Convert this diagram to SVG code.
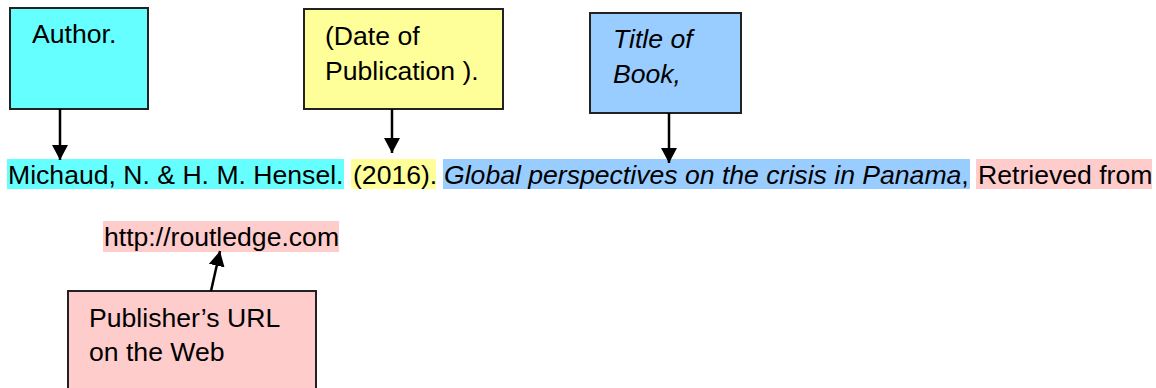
<svg xmlns="http://www.w3.org/2000/svg" width="1156" height="388" viewBox="0 0 1156 388">
<defs>
<style>
text{font-family:"Liberation Sans",Arial,sans-serif;font-size:26.6px;fill:#000}
.box{stroke:#222;stroke-width:2}
.it{font-style:italic}
.conn{stroke:#000;stroke-width:2.5;fill:none}
</style>
<marker id="ah" markerUnits="userSpaceOnUse" markerWidth="18" markerHeight="16" refX="15" refY="8" orient="auto">
<path d="M0,0 L15,8 L0,16 Z" fill="#000"/>
</marker>
</defs>
<rect width="1156" height="388" fill="#fff"/>
<g id="author">
<rect class="box" x="10" y="8" width="138" height="101" fill="#66FFFF"/>
<text x="32" y="43">Author.</text>
</g>
<g id="date">
<rect class="box" x="304" y="9" width="199" height="100" fill="#FFFF99"/>
<text x="325" y="45">(Date of</text>
<text x="325" y="80">Publication ).</text>
</g>
<g id="title">
<rect class="box" x="590" y="13" width="151" height="100" fill="#99CCFF"/>
<text class="it" x="613" y="48">Title of</text>
<text class="it" x="613" y="83">Book,</text>
</g>
<g id="publisher">
<rect class="box" x="68" y="291" width="248" height="110" fill="#FFCCCC"/>
<text x="89" y="327">Publisher’s URL</text>
<text x="89" y="361">on the Web</text>
</g>
<g id="citation">
<rect x="7" y="159" width="337" height="30" fill="#66FFFF"/>
<text x="8" y="184">Michaud, N. &amp; H. M. Hensel.</text>
<rect x="351" y="159" width="85" height="30" fill="#FFFF99"/>
<text x="353" y="184">(2016).</text>
<rect x="443" y="159" width="527" height="30" fill="#99CCFF"/>
<text x="444" y="184"><tspan class="it">Global perspectives on the crisis in Panama</tspan>,</text>
<rect x="976" y="159" width="176" height="30" fill="#FFCCCC"/>
<text x="978" y="184">Retrieved from</text>
</g>
<g id="url">
<rect x="103" y="221" width="236" height="31" fill="#FFCCCC"/>
<text x="104" y="246">http://routledge.com</text>
</g>
<g id="connectors">
<line class="conn" x1="60" y1="109" x2="60" y2="160" marker-end="url(#ah)"/>
<line class="conn" x1="392" y1="109" x2="392" y2="153" marker-end="url(#ah)"/>
<line class="conn" x1="669" y1="113" x2="669" y2="163" marker-end="url(#ah)"/>
<line class="conn" x1="211" y1="291" x2="220" y2="251" marker-end="url(#ah)"/>
</g>
</svg>
